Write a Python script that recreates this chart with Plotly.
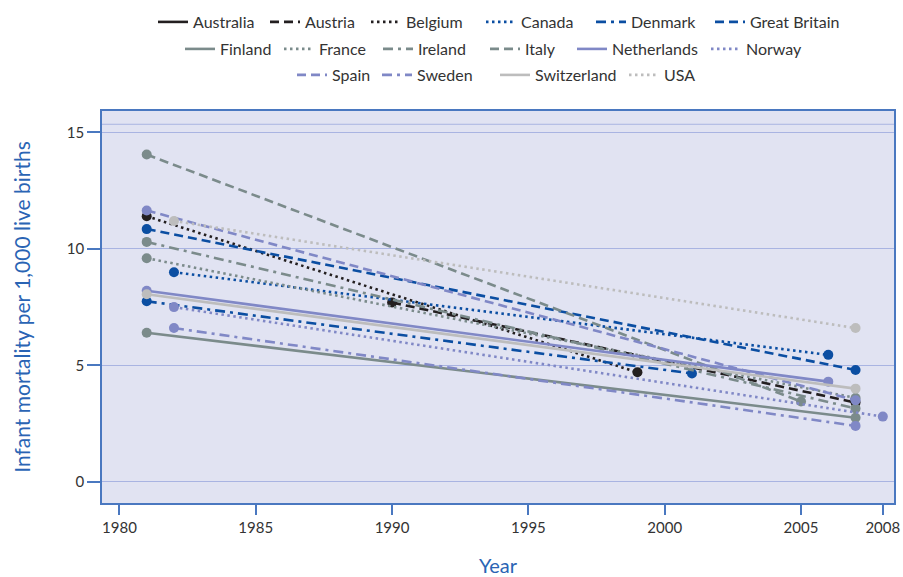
import plotly.graph_objects as go

# Infant mortality per 1,000 live births: first and last observation per country
countries = ["Australia", "Austria", "Belgium", "Canada", "Denmark", "Great Britain",
             "Finland", "France", "Ireland", "Italy", "Netherlands", "Norway",
             "Spain", "Sweden", "Switzerland", "USA"]
year_from = [None, 1990, 1981, 1982, 1981, 1981, 1981, 1981, 1981, 1981, 1981, 1982,
             1981, 1982, 1981, 1982]
rate_from = [None, 7.7, 11.4, 9.0, 7.75, 10.85, 6.4, 9.6, 10.3, 14.05, 8.2, 7.5,
             11.65, 6.6, 8.05, 11.2]
year_to = [None, 2007, 1999, 2006, 2001, 2007, 2007, 2007, 2007, 2005, 2006, 2008,
           2007, 2007, 2007, 2007]
rate_to = [None, 3.4, 4.7, 5.45, 4.65, 4.8, 2.75, 3.6, 3.15, 3.45, 4.3, 2.8,
           3.5, 2.4, 4.0, 6.6]

x_ticks = [1980, 1985, 1990, 1995, 2000, 2005, 2008]
y_ticks = [0, 5, 10, 15]

# Styles
BLACK = "#231f20"
BLUE = "#0b4ea2"
GREY = "#7b8b8b"
PURPLE = "#8088c6"
LIGHT = "#bdbdbd"
SOLID, DASH, DOT, DASHDOT = "solid", "9px,5px", "2.5px,3.5px", "10px,5px,3px,5px"
styles = {
    "Australia": (BLACK, SOLID), "Austria": (BLACK, DASH), "Belgium": (BLACK, DOT),
    "Canada": (BLUE, DOT), "Denmark": (BLUE, DASHDOT), "Great Britain": (BLUE, DASH),
    "Finland": (GREY, SOLID), "France": (GREY, DOT), "Ireland": (GREY, DASHDOT),
    "Italy": (GREY, DASH), "Netherlands": (PURPLE, SOLID), "Norway": (PURPLE, DOT),
    "Spain": (PURPLE, DASH), "Sweden": (PURPLE, DASHDOT),
    "Switzerland": (LIGHT, SOLID), "USA": (LIGHT, DOT),
}

# legend layout: one small legend per entry (text start px, row)
L, R, T, B = 102, 9, 111, 74
W, H = 903, 577
text_px = [193, 305, 406, 521, 631, 750,
           220, 319, 418, 525, 612, 746,
           332, 417, 535, 664]
row_px = [22] * 6 + [49] * 6 + [75] * 4

fig = go.Figure()
FONT = "Lato"
legends = {}
for i, name in enumerate(countries):
    color, dash = styles[name]
    if year_from[i] is None:
        xs, ys = [None], [None]
    else:
        xs, ys = [year_from[i], year_to[i]], [rate_from[i], rate_to[i]]
    key = "legend" if i == 0 else "legend%d" % (i + 1)
    # line (with legend entry)
    fig.add_trace(go.Scatter(
        x=xs, y=ys, name=name, mode="lines", legendgroup=name,
        line=dict(color=color, dash=dash, width=2.6), legend=key,
    ))
    # end-point dots
    fig.add_trace(go.Scatter(
        x=xs, y=ys, name=name, mode="markers", legendgroup=name,
        marker=dict(color=color, size=10), showlegend=False, legend=key,
    ))
    legends[key] = dict(
        orientation="h", xanchor="left", yanchor="middle",
        x=(text_px[i] - 40 - L) / (W - L - R),
        y=(H - B - row_px[i]) / (H - T - B),
        font=dict(family=FONT, size=16, color="#333333"),
        bgcolor="rgba(0,0,0,0)", itemwidth=30,
    )

fig.update_layout(
    width=W, height=H,
    margin=dict(l=L, r=R, t=T, b=B, autoexpand=False),
    paper_bgcolor="white",
    plot_bgcolor="#e1e3f2",
    font=dict(family=FONT, color="#333333", size=15),
    xaxis=dict(
        range=[1979.36, 2008.41], tickvals=x_ticks, ticks="outside", ticklen=10,
        tickcolor="#4a78c0", tickwidth=1.5, showgrid=False, zeroline=False,
        showline=True, mirror=True, linecolor="#4a78c0", linewidth=1.5,
        tickfont=dict(size=15, color="#333333"), automargin=False,
        title=dict(text="Year", font=dict(size=20, color="#2a64b4"), standoff=24),
    ),
    yaxis=dict(
        range=[-0.91, 15.92], tickvals=y_ticks, ticks="outside", ticklen=13,
        tickcolor="#4a78c0", tickwidth=1.5, showgrid=True, gridcolor="#a9b4e2",
        gridwidth=1, zeroline=False,
        showline=True, mirror=True, linecolor="#4a78c0", linewidth=1.5,
        tickfont=dict(size=15, color="#333333"), automargin=False,
        title=dict(text="Infant mortality per 1,000 live births",
                   font=dict(size=21, color="#2a64b4"), standoff=30),
    ),
    **legends,
)

fig.add_shape(type="line", xref="paper", yref="y", x0=0, x1=1, y0=15.35, y1=15.35,
              line=dict(color="#a9b4e2", width=1), layer="below")

fig.write_html("out.html", config={"displayModeBar": False},
               post_script="document.body.style.margin='0';")
